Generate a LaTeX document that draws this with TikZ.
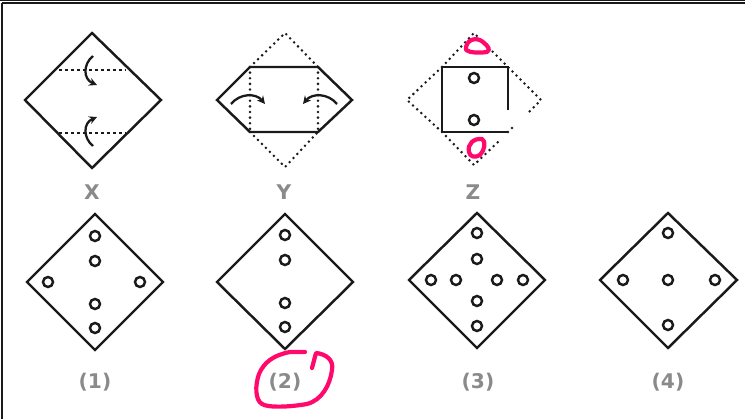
\documentclass[tikz,border=0pt]{standalone}
\usepackage{fontspec}
\setsansfont{DejaVu Sans}
\usepackage{tikz}
\usetikzlibrary{positioning,arrows.meta}
\definecolor{ink}   {HTML}{1A1A1A}
\definecolor{greyt} {HTML}{8A8A8A}
\definecolor{marker}{HTML}{FF0A6C}
\tikzset{
  >=Stealth,
  % --- shapes
  sheet/.style = {draw=ink, line width=1.4pt, line join=miter},
  fold/.style  = {draw=ink, line width=1.6pt, line cap=round, dash pattern=on 0pt off 3.2pt},
  crease/.style= {draw=ink, line width=1.3pt, dash pattern=on 1.8pt off 1.6pt},
  hole/.style  = {draw=ink, line width=1.4pt},
  turn/.style  = {draw=ink, line width=1.3pt, -{Stealth[length=4.5pt,width=4.5pt]}},
  pen/.style   = {draw=marker, line width=2.4pt, line cap=round, line join=round},
  % --- labels
  lbl/.style   = {font=\sffamily\bfseries\fontsize{11.5}{13}\selectfont, text=greyt, inner sep=0pt},
}
\begin{document}
\begin{tikzpicture}[x=0.02cm, y=-0.02cm]
  \useasboundingbox (0,0) rectangle (745,419);
  % frame
  \draw[ink, line width=0.8pt] (0,0.6) -- (745,0.6);
  \draw[ink, line width=0.6pt] (2,3) -- (745,3);
  \draw[ink, line width=0.8pt] (2,3) -- (2,419);

  % --- X
  \draw[sheet] (92,33) -- (161,100) -- (92,168) -- (25,100) -- cycle;
  \draw[crease] (59,70) -- (125,70);
  \draw[crease] (59,133) -- (125,133);
  \draw[turn] (93,56) .. controls (83,64) and (83,79) .. (97,85);
  \draw[turn] (93,146) .. controls (83,138) and (83,123) .. (97,117);
  \node[lbl] (x) at (92,192) {X};

  % --- Y
  \draw[fold] (250,67) -- (285,33) -- (318,67);
  \draw[fold] (250,132) -- (285,167) -- (318,132);
  \draw[fold] (250,67) -- (250,132);
  \draw[fold] (318,67) -- (318,132);
  \draw[sheet] (250,67) -- (318,67) -- (352,100) -- (318,132) -- (250,132) -- (217,100) -- cycle;
  \draw[turn] (231,104) .. controls (240,93) and (256,93) .. (265,104);
  \draw[turn] (337,104) .. controls (328,93) and (312,93) .. (303,104);
  \node[lbl] (y) at (284,192) {Y};

  % --- Z
  \draw[fold] (442,67) -- (474,33) -- (508,67) -- (541,100) -- (526,115);
  \draw[fold] (442,67) -- (407,100) -- (442,132) -- (474,165) -- (498,142);
  \draw[fold] (508,132) -- (512,128);
  \draw[sheet] (508,110) -- (508,67) -- (442,67) -- (442,132) -- (508,132);
  \draw[hole] (474,78) circle (5);
  \draw[hole] (474,120) circle (5);
  \draw[pen] (466,50) .. controls (465,40) and (476,36) .. (483,42)
             .. controls (488,46) and (491,50) .. (487,52)
             .. controls (480,53) and (470,53) .. (466,50) -- cycle;
  \draw[pen] (469,152) .. controls (467,144) and (474,138) .. (482,139)
             .. controls (486,141) and (485,150) .. (480,155)
             .. controls (475,158) and (470,157) .. (469,152) -- cycle;
  \node[lbl] (z) at (473,192) {Z};

  % --- (1)
  \draw[sheet] (95,214) -- (163,282) -- (95,350) -- (27,282) -- cycle;
  \foreach \p in {(95,236),(95,261),(95,304),(95,328),(48,282),(140,282)}
    \draw[hole] \p circle (5);
  \node[lbl] (o1) at (95,382) {(1)};

  % --- (2)
  \draw[sheet] (285,214) -- (353,282) -- (285,349) -- (217,282) -- cycle;
  \foreach \p in {(285,235),(285,260),(285,303),(285,327)}
    \draw[hole] \p circle (5);
  \node[lbl] (o2) at (285,382) {(2)};
  \draw[pen] (312,368) -- (316,353) .. controls (326,354) and (334,360) .. (332,370)
             .. controls (330,385) and (322,400) .. (307,404)
             .. controls (290,407) and (268,408) .. (262,404)
             .. controls (255,400) and (255,385) .. (259,374)
             .. controls (264,362) and (274,355) .. (290,352)
             -- (305,352);

  % --- (3)
  \draw[sheet] (477,213) -- (545,280) -- (477,348) -- (409,280) -- cycle;
  \foreach \p in {(477,233),(477,259),(477,301),(477,326),(431,280),(456,280),(497,280),(523,280)}
    \draw[hole] \p circle (5);
  \node[lbl] (o3) at (478,382) {(3)};

  % --- (4)
  \draw[sheet] (668,213) -- (737,280) -- (668,348) -- (600,280) -- cycle;
  \foreach \p in {(668,233),(623,280),(668,280),(715,280),(668,325)}
    \draw[hole] \p circle (5);
  \node[lbl] (o4) at (668,382) {(4)};
\end{tikzpicture}
\end{document}
